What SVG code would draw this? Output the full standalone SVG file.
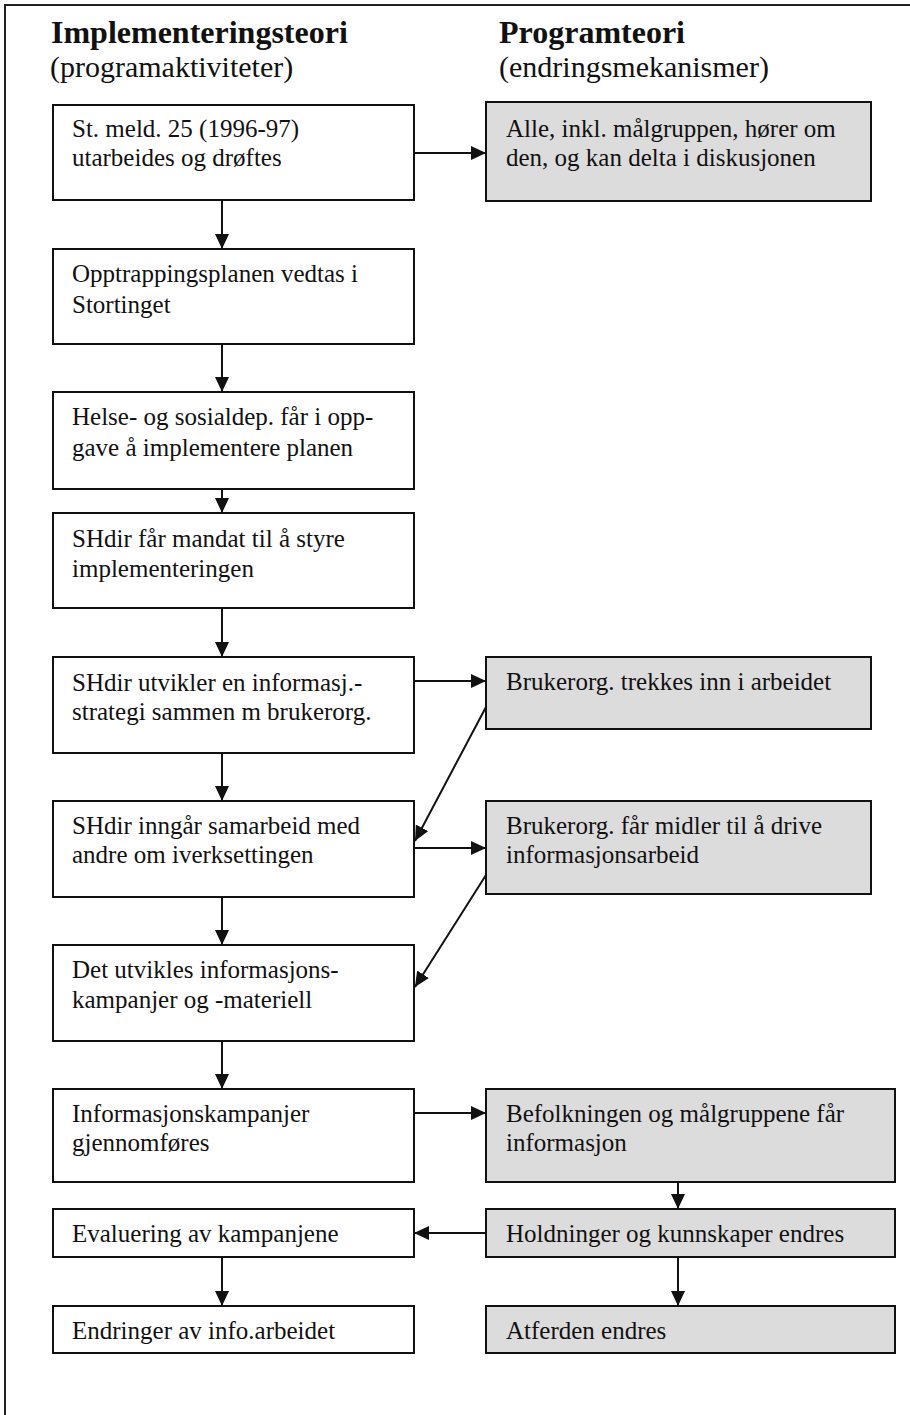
<svg xmlns="http://www.w3.org/2000/svg" width="910" height="1415" viewBox="0 0 910 1415">
<style>
.box{fill:#fff;stroke:#111;stroke-width:2}
.gbox{fill:#dcdcdc;stroke:#111;stroke-width:2}
.t{font-family:"Liberation Serif","Times New Roman",serif;font-size:25px;fill:#111}
.h{font-family:"Liberation Serif","Times New Roman",serif;font-size:30px;fill:#111}
.hb{font-weight:bold;font-size:32px}
.c{stroke:#111;stroke-width:2;fill:none;marker-end:url(#ah)}
</style>
<defs>
<marker id="ah" markerUnits="userSpaceOnUse" markerWidth="16" markerHeight="15" refX="15" refY="7" orient="auto">
<path d="M0,0 L15,7 L0,14 z" fill="#111"/>
</marker>
</defs>
<rect width="910" height="1415" fill="#fff"/>
<path d="M5,1415 V5 H910" fill="none" stroke="#222" stroke-width="2"/>
<g id="headers">
<text class="h hb" x="51" y="43">Implementeringsteori</text>
<text class="h" x="50" y="77">(programaktiviteter)</text>
<text class="h hb" x="499" y="43">Programteori</text>
<text class="h" x="499" y="77">(endringsmekanismer)</text>
</g>
<g id="n1"><rect class="box" x="53" y="105" width="361" height="95"/><text class="t" x="72" y="137">St. meld. 25 (1996-97)</text><text class="t" x="72" y="166">utarbeides og drøftes</text></g>
<g id="r1"><rect class="gbox" x="486" y="102" width="385" height="99"/><text class="t" x="506" y="137">Alle, inkl. målgruppen, hører om</text><text class="t" x="506" y="166">den, og kan delta i diskusjonen</text></g>
<g id="n2"><rect class="box" x="53" y="249" width="361" height="95"/><text class="t" x="72" y="282">Opptrappingsplanen vedtas i</text><text class="t" x="72" y="313">Stortinget</text></g>
<g id="n3"><rect class="box" x="53" y="392" width="361" height="97"/><text class="t" x="72" y="425">Helse- og sosialdep. får i opp-</text><text class="t" x="72" y="456">gave å implementere planen</text></g>
<g id="n4"><rect class="box" x="53" y="513" width="361" height="95"/><text class="t" x="72" y="547">SHdir får mandat til å styre</text><text class="t" x="72" y="577">implementeringen</text></g>
<g id="n5"><rect class="box" x="53" y="657" width="361" height="96"/><text class="t" x="72" y="691">SHdir utvikler en informasj.-</text><text class="t" x="72" y="720">strategi sammen m brukerorg.</text></g>
<g id="r2"><rect class="gbox" x="486" y="657" width="385" height="72"/><text class="t" x="506" y="690">Brukerorg. trekkes inn i arbeidet</text></g>
<g id="n6"><rect class="box" x="53" y="801" width="361" height="96"/><text class="t" x="72" y="834">SHdir inngår samarbeid med</text><text class="t" x="72" y="863">andre om iverksettingen</text></g>
<g id="r3"><rect class="gbox" x="486" y="801" width="385" height="93"/><text class="t" x="506" y="834">Brukerorg. får midler til å drive</text><text class="t" x="506" y="863">informasjonsarbeid</text></g>
<g id="n7"><rect class="box" x="53" y="945" width="361" height="96"/><text class="t" x="72" y="978">Det utvikles informasjons-</text><text class="t" x="72" y="1008">kampanjer og -materiell</text></g>
<g id="n8"><rect class="box" x="53" y="1089" width="361" height="93"/><text class="t" x="72" y="1122">Informasjonskampanjer</text><text class="t" x="72" y="1151">gjennomføres</text></g>
<g id="r4"><rect class="gbox" x="486" y="1089" width="409" height="93"/><text class="t" x="506" y="1122">Befolkningen og målgruppene får</text><text class="t" x="506" y="1151">informasjon</text></g>
<g id="n9"><rect class="box" x="53" y="1209" width="361" height="48"/><text class="t" x="72" y="1242">Evaluering av kampanjene</text></g>
<g id="r5"><rect class="gbox" x="486" y="1209" width="409" height="48"/><text class="t" x="506" y="1242">Holdninger og kunnskaper endres</text></g>
<g id="n10"><rect class="box" x="53" y="1306" width="361" height="47"/><text class="t" x="72" y="1339">Endringer av info.arbeidet</text></g>
<g id="r6"><rect class="gbox" x="486" y="1306" width="409" height="47"/><text class="t" x="506" y="1339">Atferden endres</text></g>
<g id="connectors">
<line class="c" x1="414" y1="153" x2="486" y2="153"/>
<line class="c" x1="222" y1="200" x2="222" y2="249"/>
<line class="c" x1="222" y1="344" x2="222" y2="392"/>
<line class="c" x1="222" y1="489" x2="222" y2="513"/>
<line class="c" x1="222" y1="608" x2="222" y2="657"/>
<line class="c" x1="414" y1="681" x2="486" y2="681"/>
<line class="c" x1="222" y1="753" x2="222" y2="801"/>
<line class="c" x1="486" y1="707" x2="415" y2="841"/>
<line class="c" x1="414" y1="848" x2="486" y2="848"/>
<line class="c" x1="222" y1="897" x2="222" y2="945"/>
<line class="c" x1="486" y1="875" x2="415" y2="987"/>
<line class="c" x1="222" y1="1041" x2="222" y2="1089"/>
<line class="c" x1="414" y1="1113" x2="486" y2="1113"/>
<line class="c" x1="678" y1="1182" x2="678" y2="1209"/>
<line class="c" x1="486" y1="1233" x2="414" y2="1233"/>
<line class="c" x1="222" y1="1257" x2="222" y2="1306"/>
<line class="c" x1="678" y1="1257" x2="678" y2="1306"/>
</g>
</svg>
